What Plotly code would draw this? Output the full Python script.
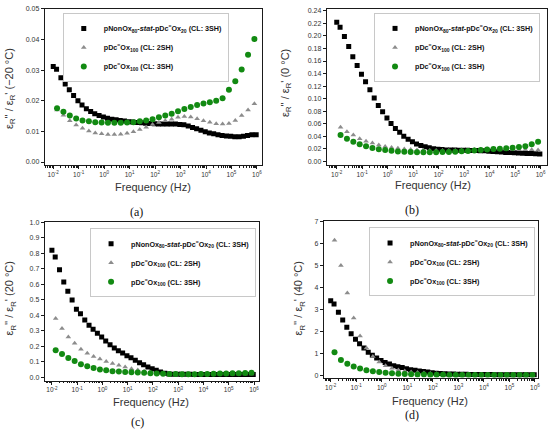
import plotly.graph_objects as go

W, H = 550, 431

# ---------------- data ----------------
# frequencies (Hz)
freq_sq = [0.0100, 0.0135, 0.0200, 0.0295, 0.0427, 0.0631, 0.0933, 0.135, 0.200, 0.295,
           0.427, 0.631, 0.933, 1.35, 2.00, 2.95, 4.27, 6.31, 9.33, 13.5,
           20.0, 29.5, 42.7, 63.1, 93.3, 135, 200, 295, 427, 631,
           933, 1350, 2000, 2950, 4270, 6310, 9330, 13500, 20000, 29500,
           42700, 63100, 93300, 135000, 200000, 295000, 427000, 631000, 933000]
freq_pdc = [0.0141, 0.0251, 0.0447, 0.0794, 0.141, 0.251, 0.447, 0.794, 1.41, 2.51,
            4.47, 7.94, 14.1, 25.1, 44.7, 79.4, 141, 251, 447, 794,
            1410, 2510, 4470, 7940, 14100, 25100, 44700, 79400, 141000, 251000,
            447000, 794000]

series_names = ["pNonOx<sub>80</sub>-<i>stat</i>-pDc<sup>=</sup>Ox<sub>20</sub> (CL: 3SH)",
                "pDc<sup>=</sup>Ox<sub>100</sub> (CL: 2SH)",
                "pDc<sup>=</sup>Ox<sub>100</sub> (CL: 3SH)"]
panel_labels = ["(a)", "(b)", "(c)", "(d)"]
panel_temps = ["\u221220 \u00b0C", "0 \u00b0C", "20 \u00b0C", "40 \u00b0C"]

# (a) -20 C
a_stat = [0.0312, 0.0303, 0.0275, 0.0255, 0.0236, 0.0217, 0.0200, 0.0186, 0.0174, 0.0165,
          0.0158, 0.0152, 0.0147, 0.0143, 0.0140, 0.0138, 0.0136, 0.0134, 0.0132, 0.0131,
          0.0129, 0.0128, 0.0127, 0.0126, 0.0125, 0.0124, 0.0124, 0.0124, 0.0124, 0.0124,
          0.0123, 0.0122, 0.0118, 0.0113, 0.0109, 0.0104, 0.0099, 0.0095, 0.0092, 0.0089,
          0.0087, 0.0085, 0.0084, 0.0083, 0.0083, 0.0084, 0.0087, 0.0089, 0.0089]
a_2sh = [0.0170, 0.0153, 0.0135, 0.0121, 0.0110, 0.0101, 0.0095, 0.0092, 0.0090, 0.0090,
         0.0091, 0.0094, 0.0099, 0.0106, 0.0114, 0.0123, 0.0129, 0.0135, 0.0140, 0.0146,
         0.0149, 0.0147, 0.0141, 0.0135, 0.0130, 0.0125, 0.0124, 0.0126, 0.0136, 0.0152,
         0.0170, 0.0190]
a_3sh = [0.0176, 0.0164, 0.0152, 0.0142, 0.0136, 0.0133, 0.0130, 0.0129, 0.0128, 0.0128,
         0.0128, 0.0129, 0.0130, 0.0133, 0.0136, 0.0140, 0.0146, 0.0152, 0.0158, 0.0166,
         0.0173, 0.0180, 0.0186, 0.0191, 0.0195, 0.0200, 0.0208, 0.0236, 0.0264, 0.0302,
         0.0350, 0.0402]

# (b) 0 C
b_stat = [0.222, 0.214, 0.199, 0.183, 0.167, 0.153, 0.139, 0.127, 0.114, 0.101,
          0.089, 0.079, 0.069, 0.060, 0.052, 0.046, 0.040, 0.035, 0.031, 0.0275,
          0.025, 0.023, 0.0215, 0.020, 0.019, 0.0185, 0.018, 0.018, 0.0178, 0.0176,
          0.0175, 0.0174, 0.0172, 0.017, 0.0168, 0.0165, 0.016, 0.0155, 0.015, 0.0145,
          0.014, 0.0137, 0.0134, 0.013, 0.0127, 0.0124, 0.0121, 0.0118, 0.0116]
b_2sh = [0.054, 0.047, 0.042, 0.036, 0.032, 0.029, 0.026, 0.0235, 0.022, 0.0205,
         0.0195, 0.0185, 0.018, 0.0175, 0.017, 0.017, 0.017, 0.017, 0.0172, 0.0175,
         0.018, 0.0185, 0.019, 0.0195, 0.0195, 0.0193, 0.019, 0.0188, 0.0185, 0.0183,
         0.0182, 0.018]
b_3sh = [0.042, 0.036, 0.031, 0.027, 0.024, 0.021, 0.019, 0.018, 0.0165, 0.0155,
         0.015, 0.0145, 0.0143, 0.0142, 0.0142, 0.0143, 0.0145, 0.0148, 0.0152, 0.0157,
         0.0163, 0.017, 0.0177, 0.0185, 0.0193, 0.020, 0.0207, 0.0215, 0.0225, 0.024,
         0.027, 0.031]

# (c) 20 C
c_stat = [0.82, 0.777, 0.694, 0.615, 0.555, 0.50, 0.44, 0.41, 0.37, 0.336,
          0.31, 0.284, 0.26, 0.234, 0.21, 0.19, 0.172, 0.157, 0.14, 0.126,
          0.111, 0.094, 0.081, 0.066, 0.055, 0.045, 0.034, 0.027, 0.022, 0.020,
          0.020, 0.020, 0.020, 0.020, 0.019, 0.019, 0.019, 0.019, 0.019, 0.018,
          0.018, 0.018, 0.018, 0.018, 0.018, 0.018, 0.018, 0.018, 0.018]
c_2sh = [0.38, 0.315, 0.26, 0.22, 0.182, 0.155, 0.134, 0.118, 0.102, 0.09,
         0.078, 0.066, 0.056, 0.047, 0.039, 0.032, 0.027, 0.023, 0.021, 0.020,
         0.020, 0.020, 0.021, 0.021, 0.021, 0.022, 0.022, 0.022, 0.022, 0.022,
         0.022, 0.022]
c_3sh = [0.175, 0.15, 0.125, 0.105, 0.085, 0.072, 0.060, 0.050, 0.045, 0.040,
         0.037, 0.035, 0.033, 0.031, 0.029, 0.027, 0.025, 0.023, 0.022, 0.021,
         0.020, 0.020, 0.020, 0.021, 0.022, 0.023, 0.024, 0.025, 0.026, 0.027,
         0.028, 0.029]

# (d) 40 C
d_stat = [3.40, 3.25, 2.88, 2.53, 2.20, 1.90, 1.65, 1.45, 1.25, 1.06,
          0.92, 0.80, 0.69, 0.60, 0.53, 0.45, 0.40, 0.37, 0.31, 0.27,
          0.24, 0.21, 0.19, 0.16, 0.135, 0.11, 0.095, 0.085, 0.075, 0.07,
          0.065, 0.06, 0.06, 0.055, 0.055, 0.05, 0.05, 0.05, 0.05, 0.045,
          0.045, 0.045, 0.045, 0.04, 0.04, 0.04, 0.04, 0.04, 0.04]
d_2sh = [6.15, 5.00, 3.75, 2.62, 1.80, 1.25, 0.87, 0.62, 0.45, 0.34,
         0.26, 0.21, 0.17, 0.14, 0.12, 0.10, 0.09, 0.08, 0.075, 0.07,
         0.065, 0.06, 0.06, 0.055, 0.055, 0.05, 0.05, 0.05, 0.05, 0.05,
         0.05, 0.05]
d_3sh = [1.06, 0.71, 0.54, 0.41, 0.32, 0.25, 0.20, 0.16, 0.13, 0.11,
         0.09, 0.075, 0.065, 0.055, 0.05, 0.045, 0.04, 0.035, 0.03, 0.03,
         0.03, 0.03, 0.03, 0.03, 0.03, 0.03, 0.03, 0.03, 0.03, 0.03,
         0.03, 0.03]

y_ticks = [
    [0.00, 0.01, 0.02, 0.03, 0.04, 0.05],
    [0.00, 0.02, 0.04, 0.06, 0.08, 0.10, 0.12, 0.14, 0.16, 0.18, 0.20, 0.22, 0.24],
    [0.0, 0.1, 0.2, 0.3, 0.4, 0.5, 0.6, 0.7, 0.8, 0.9, 1.0],
    [0, 1, 2, 3, 4, 5, 6, 7],
]
y_fmt = [".2f", ".2f", ".1f", "d"]
x_tick_vals = [0.01, 0.1, 1, 10, 100, 1000, 10000, 100000, 1000000]
x_tick_text = ["10<sup>-2</sup>", "10<sup>-1</sup>", "10<sup>0</sup>", "10<sup>1</sup>",
               "10<sup>2</sup>", "10<sup>3</sup>", "10<sup>4</sup>", "10<sup>5</sup>",
               "10<sup>6</sup>"]
x_minor_vals = [m * d for d in [0.001, 0.01, 0.1, 1, 10, 100, 1000, 10000, 100000, 1000000]
                for m in range(2, 10)]

panels = [
    (a_stat, a_2sh, a_3sh),
    (b_stat, b_2sh, b_3sh),
    (c_stat, c_2sh, c_3sh),
    (d_stat, d_2sh, d_3sh),
]

# ---------------- layout geometry (pixels) ----------------
plot_px = [(45, 263, 5, 163), (328, 549, 5, 163), (45, 260, 221, 381), (325, 540, 220, 378)]
x_rng = [(-2.33, 6.2), (-2.39, 6.25), (-2.28, 6.2), (-2.27, 6.12)]
y_rng = [(-0.001, 0.05), (-0.0063, 0.2432), (-0.021, 1.0), (-0.09, 7.0)]
# legend anchor corner (x, y, xanchor)
legend_px = [(63, 9, "left"), (542, 9, "right"), (257, 227, "right"), (537, 226, "right")]
ytitle_px = [(10, 85), (287, 80), (10, 298), (300, 298)]
xtitle_px = [(154, 185), (435, 183), (152, 403), (432, 402)]
label_px = [(137, 210), (414, 208), (138, 423), (414, 416)]

def fx(x):
    return x / W

def fy(y):
    return 1 - y / H

colors = ["#000000", "#8c8c8c", "#128a12"]
symbols = ["square", "triangle-up", "circle"]
sizes = [5, 5, 6]

fig = go.Figure()
layout = dict(
    width=W, height=H, margin=dict(l=0, r=0, t=0, b=0),
    paper_bgcolor="white", plot_bgcolor="white",
    font=dict(family="Liberation Sans, Arial, sans-serif", color="#222222"),
    annotations=[],
)

for i, (vals_stat, vals_2, vals_3) in enumerate(panels):
    xa = "x" if i == 0 else f"x{i+1}"
    ya = "y" if i == 0 else f"y{i+1}"
    lg = "legend" if i == 0 else f"legend{i+1}"
    for j, (xs, ys) in enumerate([(freq_sq, vals_stat), (freq_pdc, vals_2), (freq_pdc, vals_3)]):
        fig.add_trace(go.Scatter(
            x=xs, y=ys, mode="markers", name=series_names[j],
            marker=dict(symbol=symbols[j], size=sizes[j], color=colors[j], line=dict(width=0)),
            xaxis=xa, yaxis=ya, legend=lg, showlegend=True,
        ))
    x0, x1, y0, y1 = plot_px[i]
    axkey = "xaxis" if i == 0 else f"xaxis{i+1}"
    aykey = "yaxis" if i == 0 else f"yaxis{i+1}"
    layout[axkey] = dict(
        type="log", domain=[fx(x0), fx(x1)], range=list(x_rng[i]),
        anchor=ya, showgrid=False, zeroline=False,
        showline=True, mirror=True, linecolor="#1a1a1a", linewidth=1.2,
        ticks="outside", ticklen=3, tickwidth=1, tickcolor="#1a1a1a",
        tickmode="array", tickvals=x_tick_vals, ticktext=x_tick_text,
        tickfont=dict(size=6.5, color="#333333"),
        minor=dict(ticks="outside", ticklen=1.8, tickcolor="#1a1a1a", tickwidth=0.8,
                   tickmode="array", tickvals=x_minor_vals, showgrid=False),
    )
    layout[aykey] = dict(
        domain=[fy(y1), fy(y0)], range=list(y_rng[i]),
        anchor=xa, showgrid=False, zeroline=False,
        showline=True, mirror=True, linecolor="#1a1a1a", linewidth=1.2,
        ticks="outside", ticklen=3, tickwidth=1, tickcolor="#1a1a1a",
        tickmode="array", tickvals=y_ticks[i], tickformat=y_fmt[i],
        tickfont=dict(size=7, color="#333333"),
    )
    lx, ly, lanchor = legend_px[i]
    layout[lg] = dict(
        x=fx(lx), y=fy(ly), xanchor=lanchor, yanchor="top",
        bgcolor="white", bordercolor="#c8c8c8", borderwidth=1,
        font=dict(size=7.2, family="Liberation Sans, Arial, sans-serif", color="#111111", weight="bold"),
        tracegroupgap=0, itemwidth=30,
    )
    tx, ty = ytitle_px[i]
    layout["annotations"].append(dict(
        x=fx(tx), y=fy(ty), xref="paper", yref="paper", showarrow=False, textangle=-90,
        text=f"\u03b5<sub>R</sub>'' / \u03b5<sub>R</sub>' ({panel_temps[i]})",
        font=dict(size=11, color="#333333"), xanchor="center", yanchor="middle",
    ))
    tx, ty = xtitle_px[i]
    layout["annotations"].append(dict(
        x=fx(tx), y=fy(ty), xref="paper", yref="paper", showarrow=False,
        text="Frequency (Hz)", font=dict(size=11, color="#333333"),
        xanchor="center", yanchor="middle",
    ))
    tx, ty = label_px[i]
    layout["annotations"].append(dict(
        x=fx(tx), y=fy(ty), xref="paper", yref="paper", showarrow=False,
        text=panel_labels[i], font=dict(size=12, family="Liberation Serif, Times New Roman, serif", color="#111111"),
        xanchor="center", yanchor="middle",
    ))

fig.update_layout(**layout)
fig.write_html("out.html",
               config={"displayModeBar": False},
               post_script="document.body.style.margin='0';document.body.style.padding='0';"
                           "document.body.style.overflow='hidden';")
